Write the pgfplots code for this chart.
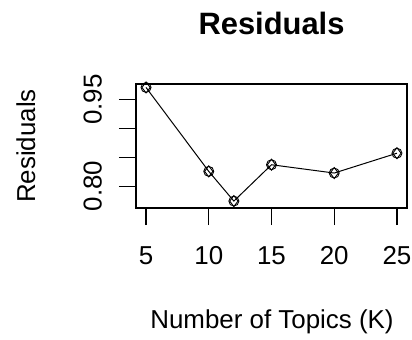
\documentclass[border=0pt]{standalone}
\usepackage{fontspec}
\setmainfont{Liberation Sans}
\usepackage{pgfplots}
\pgfplotsset{compat=1.18}
\begin{document}
\begin{tikzpicture}[x=1bp,y=1bp]
\path[use as bounding box] (0,0) rectangle (412,340);
\begin{axis}[
  at={(136bp,132bp)}, anchor=south west,
  scale only axis, width=271bp, height=124bp,
  xmin=4.2, xmax=25.8, ymin=0.762, ymax=0.977,
  xtick={5,10,15,20,25}, xticklabels={5,10,15,20,25},
  ytick={0.80,0.85,0.90,0.95}, yticklabels={0.80,,,0.95},
  tick align=outside, tick pos=left, major tick length=17bp,
  axis line style={line width=1.1bp},
  every tick/.style={line width=1.1bp, black},
  xticklabel style={font=\fontsize{26}{30}\selectfont, inner sep=0pt, anchor=north, yshift=-21bp},
  yticklabel style={font=\fontsize{26}{30}\selectfont, inner sep=0pt, xshift=-17bp, rotate=90, anchor=south},
  clip=false]
\addplot[black, line width=1bp, mark=o, mark size=5bp, mark options={line width=0.9bp}]
  coordinates {(5,0.971) (10,0.8255) (12,0.774) (15,0.837) (20,0.8226) (25,0.857)};
\addplot[black, only marks, mark=diamond, mark size=5.5bp, mark options={line width=0.9bp}]
  coordinates {(5,0.971) (10,0.8255) (12,0.774) (15,0.837) (20,0.8226) (25,0.857)};
\end{axis}
\node[anchor=base, inner sep=0pt, font=\fontsize{31}{36}\selectfont\bfseries] at (271.5,306) {Residuals};
\node[anchor=base, inner sep=0pt, rotate=90, font=\fontsize{26}{30}\selectfont] at (35,194) {Residuals};
\node[anchor=base, inner sep=0pt, font=\fontsize{26}{30}\selectfont] at (272,12) {Number of Topics (K)};
\end{tikzpicture}
\end{document}
